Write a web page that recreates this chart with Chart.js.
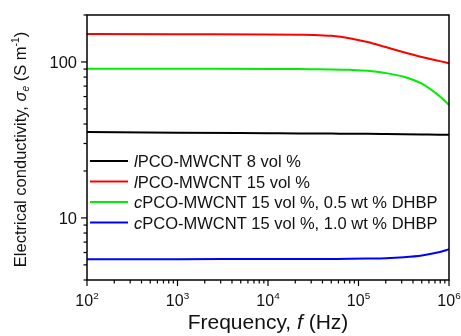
<!DOCTYPE html>
<html>
<head>
<meta charset="utf-8">
<script src="https://cdn.jsdelivr.net/npm/chart.js@4.4.1/dist/chart.umd.min.js"></script>
<style>
  body { margin: 0; background: #fff; }
  canvas { display: block; }
</style>
</head>
<body>
<canvas id="chart" width="461" height="336"></canvas>
<script>
// frequency points (Hz)
let freq = [100, 1000, 10000, 22000, 31600, 50100, 79400, 125900, 199500, 316200, 501200, 794300, 1000000];

let pco8 = [35.6, 35.2, 34.9, 34.8, 34.78, 34.72, 34.68, 34.6, 34.5, 34.4, 34.3, 34.2, 34.1];
let pco15 = [151, 150.5, 150, 149.5, 149.1, 147.1, 142.1, 134.2, 124.6, 115.5, 107.6, 101.2, 98];
let cpco05 = [90.6, 90.4, 90.2, 90.1, 89.9, 89.6, 89, 87.8, 84.9, 80.3, 72.5, 60, 53];
let cpco10 = [5.44, 5.44, 5.45, 5.45, 5.45, 5.46, 5.47, 5.49, 5.52, 5.6, 5.75, 6.05, 6.3];

let seriesPrefix = ['l', 'l', 'c', 'c'];
let seriesName = ['PCO-MWCNT 8 vol %', 'PCO-MWCNT 15 vol %', 'PCO-MWCNT 15 vol %, 0.5 wt % DHBP', 'PCO-MWCNT 15 vol %, 1.0 wt % DHBP'];
let seriesColor = ['#000000', '#ff0000', '#00ee00', '#0000ff'];

let xTickExp = [2, 3, 4, 5, 6];
let yTickVals = [10, 100];

let FONT = '"Liberation Sans", Arial, sans-serif';

let toPoints = (ys) => freq.map((f, i) => ({ x: f, y: ys[i] }));

// draw a run of text pieces: {t, it, sub, sup}
let drawRich = (ctx, segs, x, y, size, align) => {
    let measure = (s) => {
        let sz = (s.sub || s.sup) ? size * 0.62 : size;
        ctx.font = (s.it ? 'italic ' : '') + sz + 'px ' + FONT;
        return ctx.measureText(s.t).width;
    };
    let total = segs.reduce((a, s) => a + measure(s), 0);
    let cx = align === 'center' ? x - total / 2 : align === 'right' ? x - total : x;
    ctx.textAlign = 'left';
    ctx.textBaseline = 'alphabetic';
    segs.forEach(s => {
        let w = measure(s);
        let dy = s.sup ? -size * 0.42 : s.sub ? size * 0.2 : 0;
        ctx.fillText(s.t, cx, y + dy);
        cx += w;
    });
};

let axesPlugin = {
    id: 'originAxes',
    afterDraw(chart) {
        let ctx = chart.ctx;
        let a = chart.chartArea;
        let xs = chart.scales.x;
        let ys = chart.scales.y;
        ctx.save();
        ctx.strokeStyle = '#000';
        ctx.fillStyle = '#111';
        ctx.lineWidth = 1.5;
        ctx.strokeRect(a.left, a.top, a.right - a.left, a.bottom - a.top);

        // x ticks
        ctx.lineWidth = 1.2;
        for (let e = 2; e <= 6; e++) {
            for (let m = 1; m <= 9; m++) {
                let v = m * Math.pow(10, e);
                if (v > 1e6) break;
                let px = xs.getPixelForValue(v);
                ctx.beginPath();
                ctx.moveTo(px, a.bottom);
                ctx.lineTo(px, a.bottom + (m === 1 ? 6 : 3.5));
                ctx.stroke();
            }
        }
        // y ticks
        for (let e = 0; e <= 2; e++) {
            for (let m = 1; m <= 9; m++) {
                let v = m * Math.pow(10, e);
                if (v < 4 || v > 200) continue;
                let py = ys.getPixelForValue(v);
                ctx.beginPath();
                ctx.moveTo(a.left, py);
                ctx.lineTo(a.left - (m === 1 ? 6 : 3.5), py);
                ctx.stroke();
            }
        }

        // tick labels
        xTickExp.forEach(e => {
            let px = xs.getPixelForValue(Math.pow(10, e));
            drawRich(ctx, [{ t: '10' }, { t: String(e), sup: true }], px, 306, 16, 'center');
        });
        yTickVals.forEach(v => {
            let py = ys.getPixelForValue(v);
            drawRich(ctx, [{ t: String(v) }], a.left - 10, py + 6, 16.5, 'right');
        });

        // axis titles
        drawRich(ctx, [{ t: 'Frequency, ' }, { t: 'f', it: true }, { t: ' (Hz)' }],
            (a.left + a.right) / 2, 329, 21, 'center');
        ctx.save();
        ctx.translate(26, (a.top + a.bottom) / 2 + 2);
        ctx.rotate(-Math.PI / 2);
        drawRich(ctx, [{ t: 'Electrical conductivity, ' }, { t: 'σ', it: true }, { t: 'e', it: true, sub: true },
            { t: ' (S m' }, { t: '-1', sup: true }, { t: ')' }], 0, 0, 16.5, 'center');
        ctx.restore();

        // legend
        let rowY = [161, 181.5, 202, 222.5];
        seriesName.forEach((n, i) => {
            ctx.strokeStyle = seriesColor[i];
            ctx.lineWidth = 2;
            ctx.beginPath();
            ctx.moveTo(90, rowY[i]);
            ctx.lineTo(128, rowY[i]);
            ctx.stroke();
            drawRich(ctx, [{ t: seriesPrefix[i], it: true }, { t: n }], 134, rowY[i] + 6, 16.5, 'left');
        });
        ctx.restore();
    }
};

let ctx = document.querySelector('#chart').getContext('2d');
const chart = new Chart(ctx, {
    type: 'line',
    data: {
        datasets: [pco8, pco15, cpco05, cpco10].map((d, i) => ({
            label: seriesPrefix[i] + seriesName[i],
            data: toPoints(d),
            borderColor: seriesColor[i],
            borderWidth: 2,
            pointRadius: 0,
            cubicInterpolationMode: 'monotone',
            fill: false
        }))
    },
    options: {
        responsive: false,
        animation: false,
        devicePixelRatio: 1,
        layout: { padding: { left: 87, right: 12, top: 15, bottom: 56 } },
        plugins: { legend: { display: false }, tooltip: { enabled: false } },
        scales: {
            x: { type: 'logarithmic', min: 100, max: 1e6, display: false },
            y: { type: 'logarithmic', min: 4, max: 200, display: false }
        }
    },
    plugins: [axesPlugin]
});
</script>
</body>
</html>
